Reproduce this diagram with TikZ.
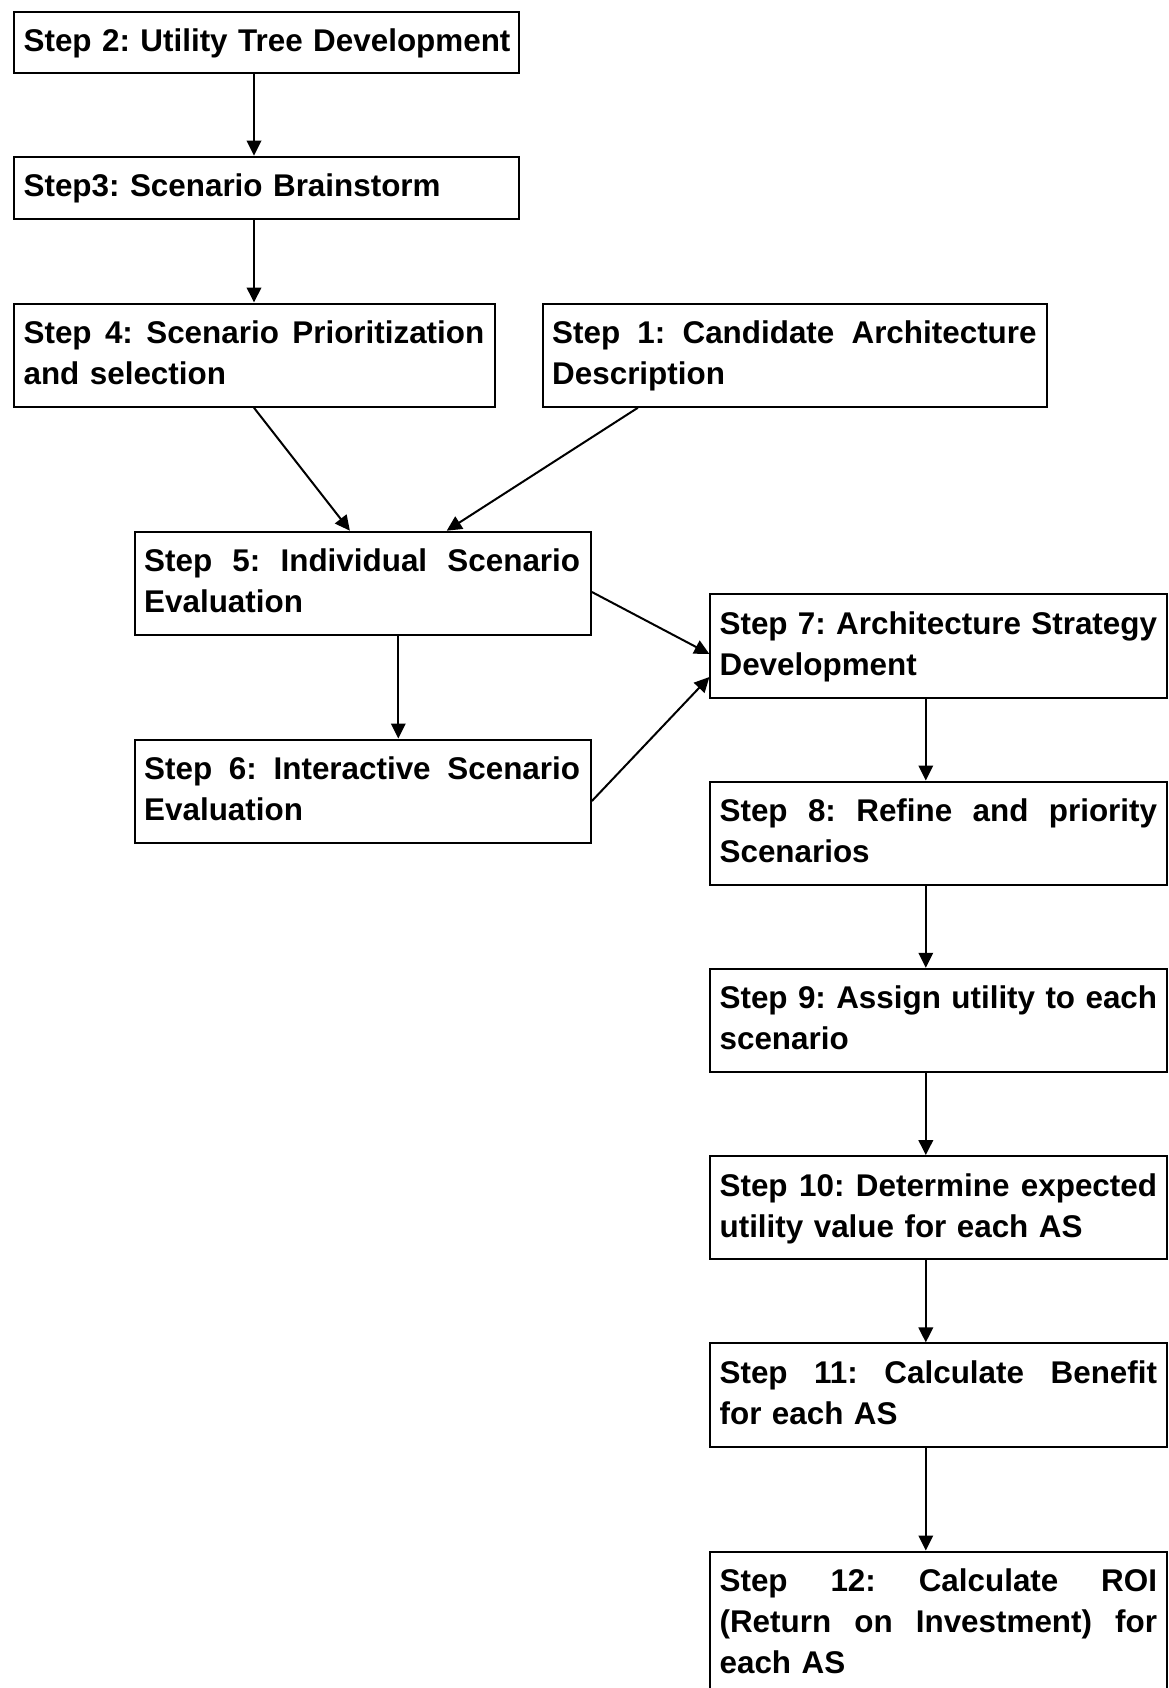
\documentclass[tikz,border=0pt]{standalone}
\usepackage{fontspec}
\setmainfont{Liberation Sans}
\usetikzlibrary{arrows.meta}

% one justified line: the words are spread over the full line width
\newcommand{\spreadline}[1]{\leavevmode\hbox to \linew{#1}}

\begin{document}
\begin{tikzpicture}[x=1pt,y=-1pt,
  stepbox/.style={draw, line width=2pt, inner sep=0pt, anchor=north west},
  narrowbox/.style={stepbox, minimum width=456.4pt},
  steptext/.style={anchor=base west, inner sep=0pt, align=left,
    text width=#1,
    execute at begin node={\def\linew{#1}\frenchspacing\hyphenpenalty=10000 },
    font=\fontsize{31.4}{41}\selectfont\bfseries},
  link/.style={line width=2pt, -{Triangle[length=15pt,width=14.5pt]}}]
\useasboundingbox (0,0) rectangle (1168,1688);

% ---------- boxes ----------
\node[stepbox, minimum width=504.9pt, minimum height=61.5pt] (b2) at (12.9,10.8) {};
\node[stepbox, minimum width=504.9pt, minimum height=62.8pt] (b3) at (12.9,155.7) {};
\node[stepbox, minimum width=481.2pt, minimum height=103.3pt] (b4) at (12.9,302.5) {};
\node[stepbox, minimum width=504.9pt, minimum height=103.3pt] (b1) at (541.5,302.5) {};
\node[narrowbox, minimum height=103.3pt] (b5) at (133.5,530.7) {};
\node[narrowbox, minimum height=103.3pt] (b6) at (133.5,738.5) {};
\node[narrowbox, minimum height=103.3pt] (b7) at (709.4,593.3) {};
\node[narrowbox, minimum height=103.3pt] (b8) at (709.4,780.5) {};
\node[narrowbox, minimum height=103.3pt] (b9) at (709.4,967.8) {};
\node[narrowbox, minimum height=103.3pt] (b10) at (709.4,1155.1) {};
\node[narrowbox, minimum height=103.3pt] (b11) at (709.4,1342.4) {};
\node[narrowbox, minimum height=144.3pt] (b12) at (709.4,1550.5) {};

% ---------- texts (first baseline 41 below the box top) ----------
\node[steptext=494pt] (t2) at (23.4,51.8) {Step 2: Utility Tree Development};
\node[steptext=494pt] (t3) at (23.4,196.7) {Step3: Scenario Brainstorm};
\node[steptext=460.7pt] (t4) at (23.4,343.5)
  {\spreadline{Step\hfill 4:\hfill Scenario\hfill Prioritization}\\and selection};
\node[steptext=484.4pt] (t1) at (552.0,343.5)
  {\spreadline{Step\hfill 1:\hfill Candidate\hfill Architecture}\\Description};
\node[steptext=435.9pt] (t5) at (144.0,571.7)
  {\spreadline{Step\hfill 5:\hfill Individual\hfill Scenario}\\Evaluation};
\node[steptext=435.9pt] (t6) at (144.0,779.5)
  {\spreadline{Step\hfill 6:\hfill Interactive\hfill Scenario}\\Evaluation};
\node[steptext=437.5pt] (t7) at (719.4,634.3)
  {\spreadline{Step\hfill 7:\hfill Architecture\hfill Strategy}\\Development};
\node[steptext=437.5pt] (t8) at (719.4,821.5)
  {\spreadline{Step\hfill 8:\hfill Refine\hfill and\hfill priority}\\Scenarios};
\node[steptext=437.5pt] (t9) at (719.4,1008.8)
  {\spreadline{Step\hfill 9:\hfill Assign\hfill utility\hfill to\hfill each}\\scenario};
\node[steptext=437.5pt] (t10) at (719.4,1196.1)
  {\spreadline{Step\hfill 10:\hfill Determine\hfill expected}\\utility value for each AS};
\node[steptext=437.5pt] (t11) at (719.4,1383.4)
  {\spreadline{Step\hfill 11:\hfill Calculate\hfill Benefit}\\for each AS};
\node[steptext=437.5pt] (t12) at (719.4,1591.5)
  {\spreadline{Step\hfill 12:\hfill Calculate\hfill ROI}\\
   \spreadline{(Return\hfill on\hfill Investment)\hfill for}\\each AS};

% ---------- connectors ----------
\draw[link] (b2.south -| 254,0) -- (b3.north -| 254,0);
\draw[link] (b3.south -| 254,0) -- (b4.north -| 254,0);
\draw[link] (b4.south -| 254,0) -- (b5.north -| 349.9,0);
\draw[link] (b1.south -| 637.8,0) -- (b5.north -| 446.7,0);
\draw[link] (b5.south -| 398.3,0) -- (b6.north -| 398.3,0);
\draw[link] (b5.east |- 0,592) -- (b7.west |- 0,654);
\draw[link] (b6.east |- 0,801) -- (b7.west |- 0,677);
\draw[link] (b7.south -| 925.8,0) -- (b8.north -| 925.8,0);
\draw[link] (b8.south -| 925.8,0) -- (b9.north -| 925.8,0);
\draw[link] (b9.south -| 925.8,0) -- (b10.north -| 925.8,0);
\draw[link] (b10.south -| 925.8,0) -- (b11.north -| 925.8,0);
\draw[link] (b11.south -| 925.8,0) -- (b12.north -| 925.8,0);
\end{tikzpicture}
\end{document}
